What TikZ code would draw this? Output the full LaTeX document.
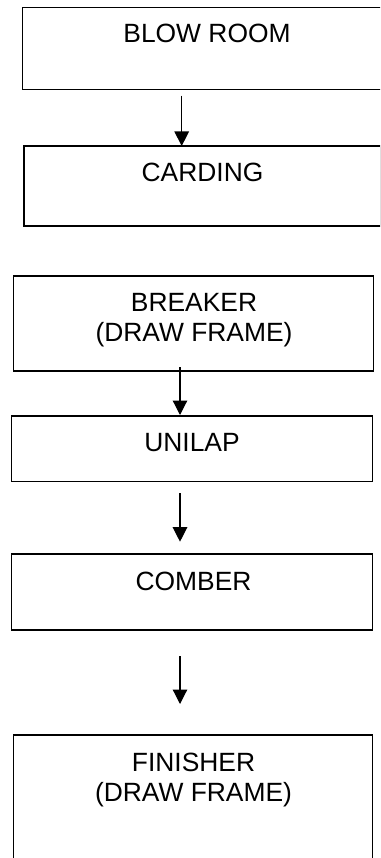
\documentclass[tikz,border=0pt]{standalone}
\usepackage{fontspec}
\setmainfont{Liberation Sans}
\usetikzlibrary{arrows.meta}
\tikzset{
  boxnode/.style={draw=black, line width=1.3pt, rectangle, inner sep=0pt, outer sep=0pt, anchor=north west},
  lbl/.style={inner sep=0pt, anchor=base, font=\fontsize{26.4}{30}\selectfont},
  flow/.style={line width=1.2pt, -{Triangle[width=14.5pt,length=14.5pt]}}
}
\begin{document}
\begin{tikzpicture}[x=1pt,y=-1pt]
\useasboundingbox (0,0) rectangle (380,858);
\fill[white] (0,0) rectangle (380,858);
\clip (0,0) rectangle (380,858);
% boxes
\node[boxnode, minimum width=368.6pt, minimum height=82pt] (blow) at (22.7,7.3) {};
\node[boxnode, minimum width=357pt, minimum height=80pt] (card) at (24,146) {};
\node[boxnode, minimum width=360pt, minimum height=95pt] (breaker) at (13.3,276) {};
\node[boxnode, minimum width=361pt, minimum height=65.7pt] (unilap) at (11.7,416) {};
\node[boxnode, minimum width=361pt, minimum height=76pt] (comber) at (11.7,554) {};
\node[boxnode, minimum width=359.4pt, minimum height=160pt] (finisher) at (13.3,735) {};
% labels
\node[lbl] (tblow) at (207,43) {BLOW ROOM};
\node[lbl] (tcard) at (202.5,182) {CARDING};
\node[lbl] (tbreak1) at (194,311.7) {BREAKER};
\node[lbl] (tbreak2) at (194,341.7) {(DRAW FRAME)};
\node[lbl] (tunilap) at (192,451.7) {UNILAP};
\node[lbl] (tcomber) at (193.5,590) {COMBER};
\node[lbl] (tfin1) at (193.5,771.7) {FINISHER};
\node[lbl] (tfin2) at (193.5,801) {(DRAW FRAME)};
% connector ends
\coordinate (a1s) at (181.7,95.7);
\coordinate (a1e) at (181.7,146);
\coordinate (a2s) at (180,367);
\coordinate (a2e) at (180,415);
\coordinate (a3s) at (180,493);
\coordinate (a3e) at (180,541.7);
\coordinate (a4s) at (180,656);
\coordinate (a4e) at (180,704);
\draw[flow] (a1s) -- (a1e);
\draw[flow] (a2s) -- (a2e);
\draw[flow] (a3s) -- (a3e);
\draw[flow] (a4s) -- (a4e);
\end{tikzpicture}
\end{document}
